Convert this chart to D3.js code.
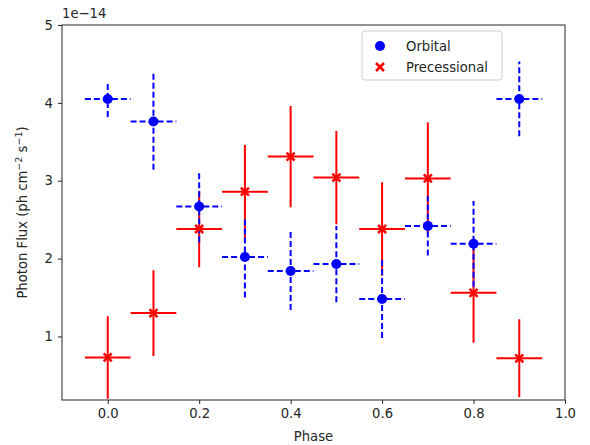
<!DOCTYPE html>
<html>
<head>
<meta charset="utf-8">
<script src="https://cdn.jsdelivr.net/npm/d3@7"></script>
<style>
  body { margin: 0; background: #fff; }
  svg { display: block; font-family: "DejaVu Sans", sans-serif; }
</style>
</head>
<body>
<svg id="chart" width="590" height="445"></svg>
<script>
// Data (flux in units of 1e-14)
const phases = [0.0, 0.1, 0.2, 0.3, 0.4, 0.5, 0.6, 0.7, 0.8, 0.9];
const phaseErr = 0.05;
const orbitalFlux = [4.05, 3.76, 2.67, 2.02, 1.84, 1.93, 1.48, 2.42, 2.19, 4.05];
const orbitalErr  = [0.23, 0.62, 0.46, 0.52, 0.50, 0.49, 0.50, 0.38, 0.55, 0.48];
const precFlux = [0.73, 1.30, 2.38, 2.86, 3.31, 3.04, 2.38, 3.03, 1.56, 0.72];
const precErr  = [0.53, 0.55, 0.49, 0.60, 0.65, 0.60, 0.60, 0.72, 0.64, 0.50];
const xTicks = [0.0, 0.2, 0.4, 0.6, 0.8, 1.0];
const yTicks = [1, 2, 3, 4, 5];
const seriesNames = ["Orbital", "Precessional"];

const svg = d3.select("#chart");
const margin = {left: 62, right: 25, top: 25, bottom: 45};
const W = 590, H = 445;
const x = d3.scaleLinear().domain([-0.1, 1.0]).range([margin.left, W - margin.right]);
const y = d3.scaleLinear().domain([0.184, 5]).range([H - margin.bottom, margin.top]);

const fontSize = 13.2;

// Axes
const xAxis = svg.append("g").attr("transform", `translate(0,${H - margin.bottom})`)
  .call(d3.axisBottom(x).tickValues(xTicks).tickFormat(d3.format(".1f")).tickSize(4).tickPadding(5));
const yAxis = svg.append("g").attr("transform", `translate(${margin.left},0)`)
  .call(d3.axisLeft(y).tickValues(yTicks).tickFormat(d3.format("d")).tickSize(4).tickPadding(5));
[xAxis, yAxis].forEach(a => {
  a.selectAll("text").attr("font-size", fontSize).attr("fill", "#262626").attr("font-family", "DejaVu Sans");
  a.selectAll("line").attr("stroke", "#262626");
  a.select(".domain").remove();
});
// frame
svg.append("rect").attr("x", margin.left).attr("y", margin.top)
  .attr("width", W - margin.left - margin.right).attr("height", H - margin.top - margin.bottom)
  .attr("fill", "none").attr("stroke", "#262626").attr("stroke-width", 1);

const plot = svg.append("g");
const orbital = phases.map((p, i) => ({p, v: orbitalFlux[i], e: orbitalErr[i]}));
const prec = phases.map((p, i) => ({p, v: precFlux[i], e: precErr[i]}));

function bars(data, color, dash) {
  const g = plot.append("g").attr("stroke", color).attr("stroke-width", 2).attr("fill", "none");
  if (dash) g.attr("stroke-dasharray", dash);
  data.forEach(d => {
    g.append("line").attr("x1", x(d.p)).attr("x2", x(d.p)).attr("y1", y(d.v - d.e)).attr("y2", y(d.v + d.e));
    g.append("line").attr("x1", x(d.p - phaseErr)).attr("x2", x(d.p + phaseErr)).attr("y1", y(d.v)).attr("y2", y(d.v));
  });
}
bars(prec, "#ff0000", null);
bars(orbital, "#0000ff", "6,3");

function xMarker(g, cx, cy, s) {
  g.append("path").attr("d", `M${cx - s},${cy - s}L${cx + s},${cy + s}M${cx - s},${cy + s}L${cx + s},${cy - s}`)
    .attr("stroke", "#ff0000").attr("stroke-width", 2.5).attr("fill", "none");
}
plot.append("g").selectAll("circle").data(orbital).join("circle")
  .attr("cx", d => x(d.p)).attr("cy", d => y(d.v)).attr("r", 5).attr("fill", "#0000ff");
const pm = plot.append("g");
prec.forEach(d => xMarker(pm, x(d.p), y(d.v), 4));

// offset text
svg.append("text").attr("x", margin.left).attr("y", 18).attr("font-size", fontSize).attr("fill", "#262626")
  .text("1e\u221214");

// axis labels
svg.append("text").attr("x", (margin.left + W - margin.right) / 2).attr("y", 441)
  .attr("text-anchor", "middle").attr("font-size", fontSize).attr("fill", "#262626").text("Phase");
const yl = svg.append("text").attr("transform", `translate(27,${(margin.top + H - margin.bottom) / 2}) rotate(-90)`)
  .attr("text-anchor", "middle").attr("font-size", fontSize).attr("fill", "#262626");
yl.append("tspan").text("Photon Flux (ph cm");
yl.append("tspan").attr("dy", -5).attr("font-size", 9.5).text("\u22122");
yl.append("tspan").attr("dy", 5).text(" s");
yl.append("tspan").attr("dy", -5).attr("font-size", 9.5).text("\u22121");
yl.append("tspan").attr("dy", 5).text(")");

// legend
const lg = svg.append("g").attr("transform", "translate(362,31)");
lg.append("rect").attr("width", 140).attr("height", 49).attr("rx", 3)
  .attr("fill", "#fff").attr("fill-opacity", 0.8).attr("stroke", "#d0d0d0");
lg.append("circle").attr("cx", 18).attr("cy", 15).attr("r", 5).attr("fill", "#0000ff");
xMarker(lg, 18, 36, 4);
lg.append("text").attr("x", 44).attr("y", 19.5).attr("font-size", fontSize).attr("fill", "#262626").text(seriesNames[0]);
lg.append("text").attr("x", 44).attr("y", 40.5).attr("font-size", fontSize).attr("fill", "#262626").text(seriesNames[1]);
</script>
</body>
</html>
